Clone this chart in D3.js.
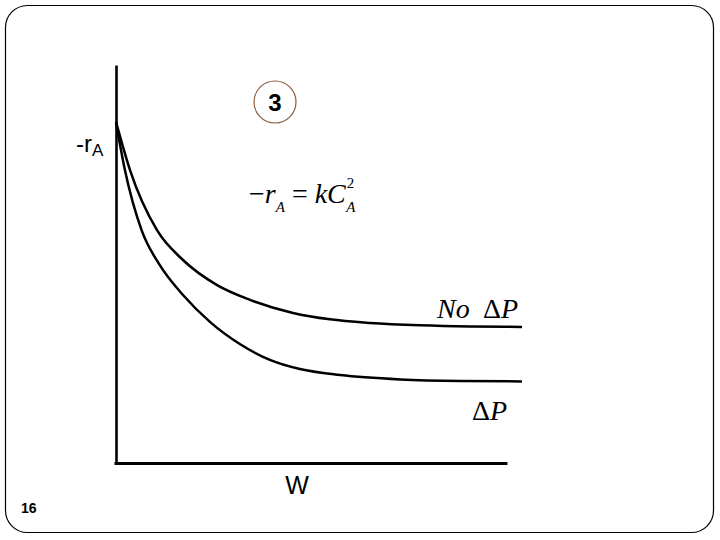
<!DOCTYPE html>
<html>
<head>
<meta charset="utf-8">
<script src="https://cdn.jsdelivr.net/npm/d3@7"></script>
<style>
  html, body { margin: 0; padding: 0; background: #fff; }
  svg { display: block; }
</style>
</head>
<body>
<svg id="chart" width="720" height="540"></svg>
<script>
// ---- data (W and -rA in arbitrary units 0..100) ----
const noDPW  = [0, 3.45, 10.1, 16.5, 24.9, 33.0, 43.6, 52.7, 62.6, 74.9, 87.2, 100];
const noDPR  = [85.7, 73.6, 58.5, 51.0, 44.7, 41.0, 37.7, 36.1, 35.2, 34.6, 34.3, 34.2];
const dPW    = [0, 2.2, 6.3, 10.8, 16.5, 23.2, 30.5, 37.9, 45.3, 55.2, 70.0, 84.7, 100];
const dPR    = [85.7, 73.6, 58.5, 49.7, 42.2, 35.4, 29.9, 25.9, 23.6, 22.1, 21.0, 20.6, 20.5];
const axisWMax = 96.3;   // x-axis line ends a bit before the curves
const seriesLabels = ["No", "\u0394", "P"];
const xLabel = "W";
const slideNumber = "16";
const stepNumber = "3";

const svg = d3.select("#chart");

// slide frame
svg.append("rect")
  .attr("x", 5.5).attr("y", 5.5).attr("width", 708).attr("height", 527)
  .attr("rx", 22).attr("ry", 22)
  .attr("fill", "none").attr("stroke", "#000").attr("stroke-width", 1.2);

const x = d3.scaleLinear().domain([0, 100]).range([116, 522]);
const y = d3.scaleLinear().domain([0, 100]).range([463, 65]);

// axes (no ticks, just the domain lines)
const yAxis = d3.axisLeft(y).ticks(0).tickSizeOuter(0);
const gy = svg.append("g").attr("transform", `translate(${x(0)},0)`).call(yAxis);
gy.select(".domain").attr("stroke", "#000").attr("stroke-width", 2.6);

const xAxisScale = d3.scaleLinear().domain([0, axisWMax]).range([x(0) - 2, x(axisWMax)]);
const xAxis = d3.axisBottom(xAxisScale).ticks(0).tickSizeOuter(0);
const gx = svg.append("g").attr("transform", `translate(0,${y(0)})`).call(xAxis);
gx.select(".domain").attr("stroke", "#000").attr("stroke-width", 2.8);

// curves
const line = d3.line().x(d => x(d[0])).y(d => y(d[1])).curve(d3.curveMonotoneX);
svg.append("path")
  .datum(noDPW.map((w, i) => [w, noDPR[i]]))
  .attr("d", line).attr("fill", "none").attr("stroke", "#000").attr("stroke-width", 2.5);
svg.append("path")
  .datum(dPW.map((w, i) => [w, dPR[i]]))
  .attr("d", line).attr("fill", "none").attr("stroke", "#000").attr("stroke-width", 2.5);

const sans = "Arial, 'Liberation Sans', sans-serif";
const serif = "'Liberation Serif', 'Times New Roman', serif";

// -rA label
const rl = svg.append("text").attr("x", 76).attr("y", 152)
  .attr("font-family", sans).attr("font-size", 24).attr("fill", "#000");
rl.append("tspan").text("-r");
rl.append("tspan").attr("font-size", 17).attr("dy", 4).text("A");

// circled 3
svg.append("circle").attr("cx", 275).attr("cy", 102).attr("r", 21)
  .attr("fill", "none").attr("stroke", "#8a5a3c").attr("stroke-width", 1.2);
svg.append("text").attr("x", 275).attr("y", 111).attr("text-anchor", "middle")
  .attr("font-family", sans).attr("font-weight", "bold")
  .attr("font-size", 24).attr("fill", "#000").text(stepNumber);

// equation  -rA = k CA^2
const eq = svg.append("text").attr("x", 249).attr("y", 203)
  .attr("font-family", serif).attr("font-size", 28).attr("fill", "#000");
eq.append("tspan").text("\u2212");
eq.append("tspan").attr("font-style", "italic").text("r");
eq.append("tspan").attr("font-style", "italic").attr("font-size", 15).attr("dy", 9).text("A");
eq.append("tspan").attr("dy", -9).attr("dx", 7).text("=");
eq.append("tspan").attr("dx", 7).attr("font-style", "italic").text("kC");
eq.append("tspan").attr("font-size", 15).attr("dy", -15).attr("dx", 1).text("2");
eq.append("tspan").attr("font-style", "italic").attr("font-size", 15).attr("dy", 24).attr("dx", -8).text("A");

// series labels
function deltaP(xp, yp) {
  const t = svg.append("text").attr("x", xp).attr("y", yp).attr("font-family", serif)
    .attr("font-size", 28).attr("fill", "#000");
  t.append("tspan").text(seriesLabels[1]);
  t.append("tspan").attr("font-style", "italic").text(seriesLabels[2]);
}
svg.append("text").attr("x", 437).attr("y", 318).attr("font-family", serif)
  .attr("font-style", "italic").attr("font-size", 28).attr("fill", "#000").text(seriesLabels[0]);
deltaP(483, 318);
deltaP(472, 420);

// W axis label
svg.append("text").attr("x", 297).attr("y", 494).attr("text-anchor", "middle")
  .attr("font-family", sans).attr("font-size", 25).attr("fill", "#000")
  .text(xLabel);

// slide number
svg.append("text").attr("x", 21).attr("y", 513)
  .attr("font-family", sans).attr("font-weight", "bold")
  .attr("font-size", 14).attr("fill", "#000").text(slideNumber);
</script>
</body>
</html>
